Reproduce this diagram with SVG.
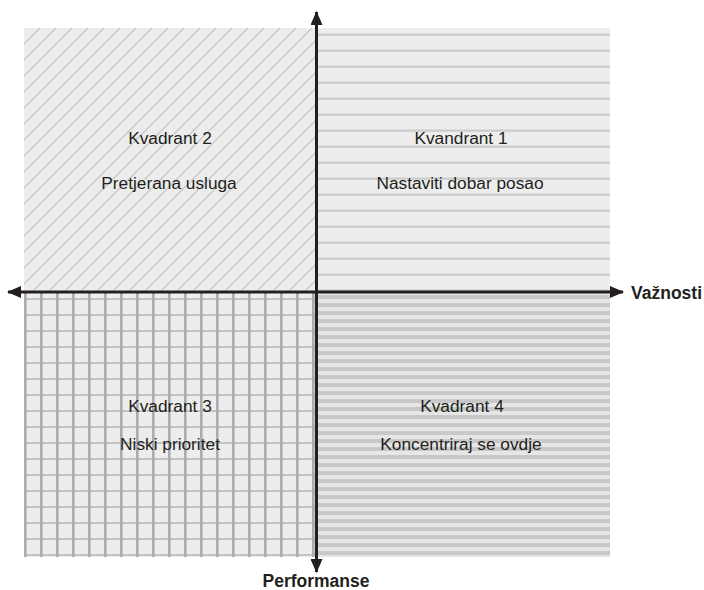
<svg xmlns="http://www.w3.org/2000/svg" width="704" height="590" viewBox="0 0 704 590">
<defs>
<pattern id="diag" patternUnits="userSpaceOnUse" width="16" height="16" x="24" y="28">
<rect width="16" height="16" fill="#ececec"/>
<path d="M-4,4 L4,-4 M0,16 L16,0 M12,20 L20,12" stroke="#cbcbcb" stroke-width="1.5"/>
</pattern>
<pattern id="hlines" patternUnits="userSpaceOnUse" width="16" height="16" x="0" y="28">
<rect width="16" height="16" fill="#ededed"/>
<rect y="5.5" width="16" height="2.2" fill="#cbcbcb"/>
</pattern>
<pattern id="grid" patternUnits="userSpaceOnUse" width="16" height="16" x="24" y="291">
<rect width="16" height="16" fill="#ededed"/>
<rect y="7" width="16" height="2" fill="#c2c2c2"/>
<rect x="0" width="2.6" height="16" fill="#acacb0"/>
</pattern>
<pattern id="dense" patternUnits="userSpaceOnUse" width="8" height="8" x="0" y="292">
<rect width="8" height="8" fill="#e6e6e6"/>
<rect y="3" width="8" height="4" fill="#c8c8c8"/>
</pattern>
<marker id="ah" viewBox="0 0 14 12" refX="13" refY="6" markerWidth="14" markerHeight="12" markerUnits="userSpaceOnUse" orient="auto">
<path d="M0,0 L14,6 L0,12 Z" fill="#231f20"/>
</marker>
</defs>
<style>
.t{font-family:"Liberation Sans",Arial,sans-serif;font-size:17.3px;fill:#231f20;text-anchor:middle}
.b{font-family:"Liberation Sans",Arial,sans-serif;font-size:17.5px;font-weight:bold;fill:#231f20}
.ax{stroke:#231f20;stroke-width:3;fill:none}
</style>
<g id="q2">
<rect x="24" y="28" width="293" height="264" fill="url(#diag)"/>
<text class="t" x="170" y="144">Kvadrant 2</text>
<text class="t" x="169" y="189">Pretjerana usluga</text>
</g>
<g id="q1">
<rect x="317" y="28" width="293" height="264" fill="url(#hlines)"/>
<text class="t" x="461" y="144">Kvandrant  1</text>
<text class="t" x="460" y="189">Nastaviti dobar posao</text>
</g>
<g id="q3">
<rect x="24" y="292" width="293" height="265" fill="url(#grid)"/>
<text class="t" x="170" y="412">Kvadrant 3</text>
<text class="t" x="170" y="450">Niski prioritet</text>
</g>
<g id="q4">
<rect x="317" y="292" width="293" height="265" fill="url(#dense)"/>
<text class="t" x="462" y="412">Kvadrant 4</text>
<text class="t" x="461" y="450">Koncentriraj se ovdje</text>
</g>
<g id="connectors">
<line class="ax" x1="316.5" y1="557" x2="316.5" y2="12" marker-end="url(#ah)"/>
<line class="ax" x1="316.5" y1="292" x2="316.5" y2="572" marker-end="url(#ah)"/>
<line class="ax" x1="316.5" y1="292" x2="623" y2="292" marker-end="url(#ah)"/>
<line class="ax" x1="316.5" y1="292" x2="8" y2="292" marker-end="url(#ah)"/>
</g>
<g id="labels">
<text class="b" x="631" y="299">Važnosti</text>
<text class="b" x="316" y="587" text-anchor="middle">Performanse</text>
</g>
</svg>
